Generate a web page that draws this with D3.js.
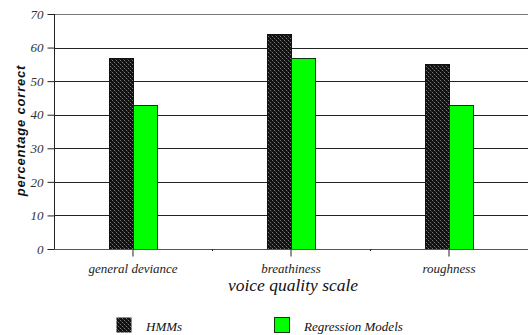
<!DOCTYPE html>
<html><head><meta charset="utf-8">
<script src="https://cdn.jsdelivr.net/npm/d3@7"></script>
<style>body{margin:0;background:#fff}svg{display:block}</style>
</head><body>
<svg id="c" width="528" height="335"></svg>
<script>
const categories = ["general deviance", "breathiness", "roughness"];
const seriesNames = ["HMMs", "Regression Models"];
const hmmValues = [57, 64, 55];
const regressionValues = [43, 57, 43];
const yTicks = [0, 10, 20, 30, 40, 50, 60, 70];

const SERIF = "'Times New Roman', serif";
const SANS = "'Liberation Sans', Arial, sans-serif";
const svg = d3.select("#c");
const W = 528, H = 335;
const m = {left: 54, right: 0, top: 14, bottom: 86};
const x = d3.scaleBand().domain(categories).range([m.left, W - m.right]);
const y = d3.scaleLinear().domain([0, 70]).range([H - m.bottom, m.top]);

function serif(sel, size) {
  return sel.style("font-family", SERIF).style("font-style", "italic").style("font-size", size + "px");
}

const defs = svg.append("defs");
const pat = defs.append("pattern").attr("id", "hatch").attr("patternUnits", "userSpaceOnUse")
  .attr("width", 4).attr("height", 4);
pat.append("rect").attr("width", 4).attr("height", 4).attr("fill", "#111");
pat.append("rect").attr("x", 0).attr("y", 0).attr("width", 1).attr("height", 1).attr("fill", "#777");
pat.append("rect").attr("x", 2).attr("y", 2).attr("width", 1).attr("height", 1).attr("fill", "#777");
pat.append("rect").attr("x", 1).attr("y", 1).attr("width", 1).attr("height", 1).attr("fill", "#333");
pat.append("rect").attr("x", 3).attr("y", 3).attr("width", 1).attr("height", 1).attr("fill", "#333");

// gridlines
svg.append("g").selectAll("line").data(yTicks.filter(d => d > 0)).join("line")
  .attr("x1", m.left).attr("x2", W - m.right)
  .attr("y1", d => Math.round(y(d)) + 0.5).attr("y2", d => Math.round(y(d)) + 0.5)
  .attr("stroke", d => d === 70 ? "#777" : "#222").attr("stroke-width", 1);

// y axis
const yAxis = svg.append("g").attr("transform", `translate(${m.left + 0.5},0)`)
  .call(d3.axisLeft(y).tickValues(yTicks).tickSize(7).tickPadding(4).tickFormat(d3.format("d")));
yAxis.select(".domain").attr("stroke", "#222").attr("d", `M0,${y(70)}V${y(0)}`);
yAxis.selectAll(".tick line").attr("stroke", "#222");
serif(yAxis.selectAll("text"), 13).attr("fill", "#333");

// bars
const bw = 24;
const data = categories.map((c, i) => ({c, vals: [hmmValues[i], regressionValues[i]]}));
const g = svg.append("g");
data.forEach(d => {
  const cx = x(d.c) + x.bandwidth() / 2;
  d.vals.forEach((v, j) => {
    g.append("rect")
      .attr("x", Math.round(cx - bw + j * bw) + 0.5)
      .attr("y", Math.round(y(v)) + 0.5)
      .attr("width", bw)
      .attr("height", Math.round(y(0)) - Math.round(y(v)))
      .attr("fill", j === 0 ? "url(#hatch)" : "#00ff00")
      .attr("stroke", j === 0 ? "#111" : "#0a3a0a").attr("stroke-width", 1);
  });
});

// x axis
const xAxis = svg.append("g").attr("transform", `translate(0,${Math.round(y(0)) + 0.5})`)
  .call(d3.axisBottom(x).tickSize(7).tickPadding(7));
xAxis.select(".domain").attr("stroke", "#555").attr("d", `M${m.left},0H${W}`);
xAxis.selectAll(".tick line").attr("stroke", "#222");
serif(xAxis.selectAll("text"), 13).attr("fill", "#222");
// small boundary ticks
svg.append("g").selectAll("line").data(categories.slice(1)).join("line")
  .attr("x1", d => x(d) + 0.5).attr("x2", d => x(d) + 0.5)
  .attr("y1", Math.round(y(0))).attr("y2", Math.round(y(0)) + 2).attr("stroke", "#222");

// axis titles
serif(svg.append("text"), 17.5).attr("x", (m.left + W) / 2 + 2).attr("y", 291).attr("text-anchor", "middle")
  .attr("fill", "#111").text("voice quality scale");
svg.append("text").attr("transform", `translate(25,${(m.top + y(0)) / 2 - 1}) rotate(-90)`)
  .style("font-family", SANS).style("font-style", "italic").style("font-weight", "bold").style("font-size", "13px")
  .attr("text-anchor", "middle").attr("letter-spacing", 0.8)
  .attr("fill", "#111").text("percentage correct");

// legend
const legX = [116, 274];
seriesNames.forEach((s, i) => {
  svg.append("rect").attr("x", legX[i] + 0.5).attr("y", 317.5).attr("width", 15).attr("height", 15)
    .attr("fill", i === 0 ? "url(#hatch)" : "#00ff00")
    .attr("stroke", i === 0 ? "none" : "#0a3a0a");
  serif(svg.append("text"), 13).attr("x", legX[i] + 30).attr("y", 331)
    .attr("fill", "#111").text(s);
});
</script>
</body></html>
